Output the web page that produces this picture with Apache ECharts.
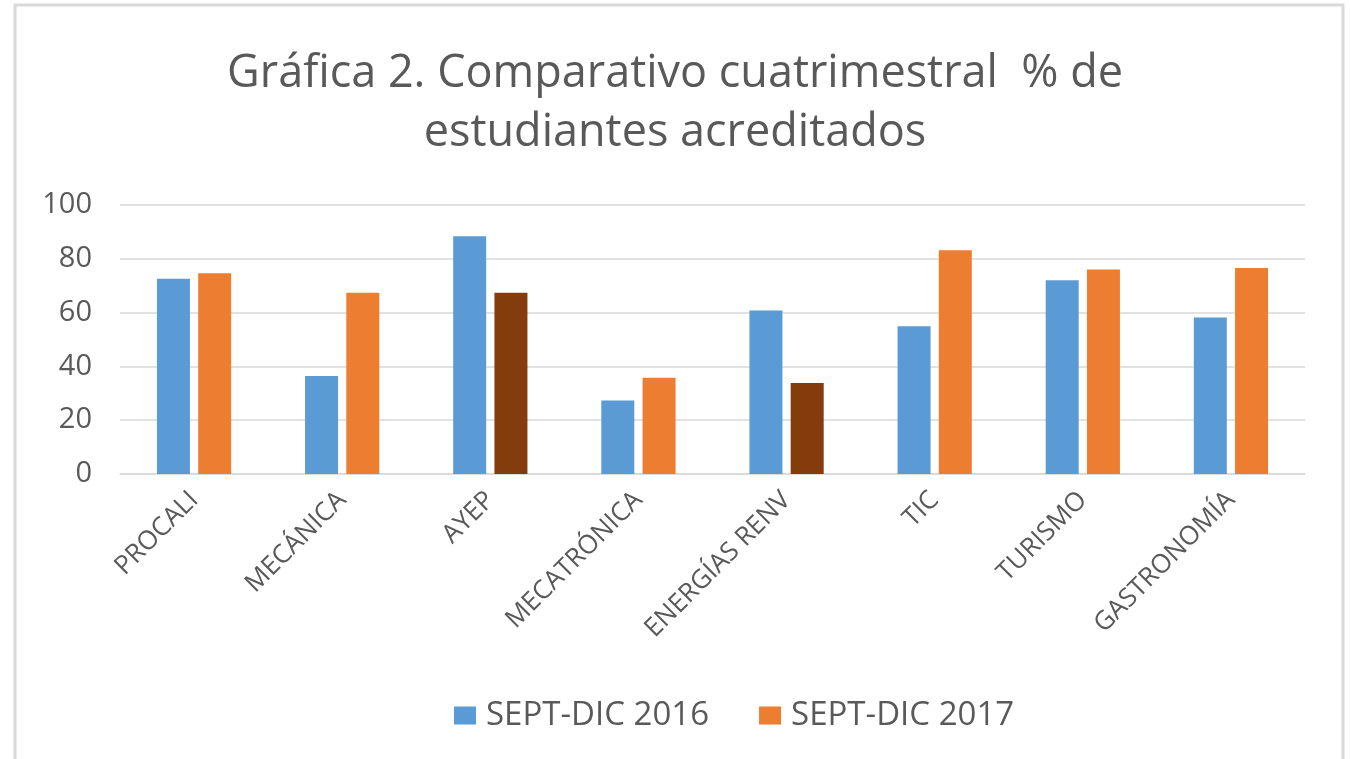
<!DOCTYPE html>
<html>
<head>
<meta charset="utf-8">
<script src="https://cdn.jsdelivr.net/npm/echarts@6/dist/echarts.min.js"></script>
<style>
  html, body { margin: 0; padding: 0; background: #fff; }
  #main { width: 1350px; height: 759px; }
</style>
</head>
<body>
<div id="main"></div>
<script>
var chartDom = document.getElementById('main')
var myChart = echarts.init(chartDom)

const categories = ['PROCALI', 'MECÁNICA', 'AYEP', 'MECATRÓNICA', 'ENERGÍAS RENV', 'TIC', 'TURISMO', 'GASTRONOMÍA']
const seriesNames = ['SEPT-DIC 2016', 'SEPT-DIC 2017']
const values2016 = [72.6, 36.4, 88.4, 27.3, 60.8, 54.9, 72, 58.2]
const values2017 = [74.6, 67.4, 67.4, 35.8, 33.8, 83.2, 76, 76.6]
// categories whose 2017 bar is drawn in the darker shade
const darkCats = ['AYEP', 'ENERGÍAS RENV']

const textColor = '#595959'
const fontFam = '"Open Sans", sans-serif'

let data2017 = values2017.map((v, i) =>
  darkCats.includes(categories[i]) ? { value: v, itemStyle: { color: '#843C0C' } } : v
)

var option = {
  animation: false,
  graphic: [{
    type: 'rect',
    shape: { x: 15, y: 5, width: 1328, height: 770 },
    style: { fill: 'none', stroke: '#d9d9d9', lineWidth: 3 },
    silent: true
  }],
  title: {
    text: 'Gráfica 2. Comparativo cuatrimestral  % de\nestudiantes acreditados',
    left: 'center',
    top: 40,
    textStyle: {
      fontFamily: fontFam,
      fontSize: 45,
      fontWeight: 'normal',
      lineHeight: 59,
      color: textColor
    }
  },
  legend: {
    data: seriesNames,
    top: 694,
    left: 449,
    itemWidth: 22,
    itemHeight: 18,
    itemGap: 50,
    icon: 'rect',
    textStyle: { fontFamily: fontFam, fontSize: 33, color: textColor, padding: [0, 0, 0, 5] }
  },
  grid: {
    left: 120,
    right: 45,
    top: 205,
    bottom: 285,
    outerBoundsMode: 'none'
  },
  xAxis: {
    type: 'category',
    data: categories,
    axisLine: { lineStyle: { color: '#d9d9d9', width: 1.5 } },
    axisTick: { show: false },
    axisLabel: {
      rotate: 45,
      margin: 22,
      fontFamily: fontFam,
      fontSize: 26,
      color: textColor
    }
  },
  yAxis: {
    type: 'value',
    min: 0,
    max: 100,
    interval: 20,
    axisLine: { show: false },
    axisTick: { show: false },
    splitLine: { lineStyle: { color: '#d9d9d9', width: 1.5 } },
    axisLabel: {
      margin: 28,
      fontFamily: fontFam,
      fontSize: 29,
      color: textColor
    }
  },
  series: [
    {
      name: seriesNames[0],
      type: 'bar',
      data: values2016,
      barWidth: 33,
      barGap: '25%',
      itemStyle: { color: '#5B9BD5' }
    },
    {
      name: seriesNames[1],
      type: 'bar',
      data: data2017,
      barWidth: 33,
      barGap: '25%',
      itemStyle: { color: '#ED7D31' }
    }
  ]
}

option && myChart.setOption(option)
</script>
</body>
</html>
